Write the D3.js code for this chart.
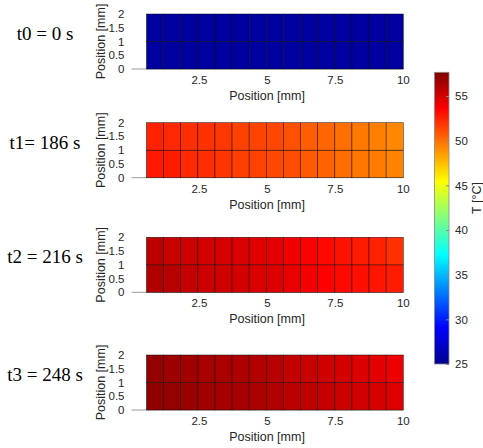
<!DOCTYPE html>
<html>
<head>
<meta charset="utf-8">
<script src="https://cdn.jsdelivr.net/npm/d3@7/dist/d3.min.js"></script>
<style>
  body { margin: 0; background: #fff; }
  text { font-family: "Liberation Sans", Arial, sans-serif; fill: #262626; }
</style>
</head>
<body>
<svg id="chart" width="483" height="448"></svg>
<script>
// panel titles (time stamps)
const titles = ["t0 = 0 s", "t1= 186 s", "t2 = 216 s", "t3 = 248 s"];

// column edges along x [mm] and row edges along y [mm]
const xEdges = [0.55, 1.18, 1.81, 2.44, 3.07, 3.7, 4.33, 4.96, 5.59, 6.22, 6.85, 7.48, 8.11, 8.74, 9.37, 10];
const yEdges = [0, 1, 2];

const xTicks = [2.5, 5, 7.5, 10];
const yTicks = [0, 0.5, 1, 1.5, 2];
const cTicks = [25, 30, 35, 40, 45, 50, 55];

// temperatures [°C], row 0 = bottom (0-1 mm), row 1 = top (1-2 mm)
const temp0 = [
  [25.6, 25.6, 25.6, 25.6, 25.6, 25.6, 25.6, 25.6, 25.6, 25.6, 25.6, 25.6, 25.6, 25.6, 25.6],
  [25.6, 25.6, 25.6, 25.6, 25.6, 25.6, 25.6, 25.6, 25.6, 25.6, 25.6, 25.6, 25.6, 25.6, 25.6]
];
const temp1 = [
  [52.8, 52.7, 52.3, 52.1, 51.9, 51.6, 51.5, 51.3, 51.1, 50.7, 50.4, 50.1, 49.8, 49.6, 49.4],
  [52.5, 52.3, 52.1, 52.0, 51.8, 51.5, 51.4, 51.3, 51.0, 50.6, 50.3, 50.0, 49.7, 49.5, 49.2]
];
const temp2 = [
  [56.1, 55.85, 55.45, 55.2, 55.07, 54.96, 54.75, 54.63, 54.3, 53.92, 53.57, 53.3, 53.1, 52.9, 52.7],
  [55.75, 55.33, 55.2, 55.0, 54.9, 54.75, 54.56, 54.43, 54.05, 53.73, 53.3, 53.0, 52.75, 52.5, 52.0]
];
const temp3 = [
  [57.12, 57.0, 56.8, 56.6, 56.48, 56.35, 56.29, 56.1, 55.75, 55.6, 55.4, 55.2, 55.0, 54.9, 54.62],
  [56.96, 56.74, 56.55, 56.42, 56.29, 56.16, 56.03, 55.9, 55.52, 55.33, 55.14, 54.95, 54.69, 54.5, 54.12]
];
const temps = [temp0, temp1, temp2, temp3];

const cMin = 25, cMax = 57.65;

// jet colormap
const jetStops = [0, 1/8, 3/8, 5/8, 7/8, 1];
const jetColors = ["#000090", "#0000ff", "#00ffff", "#ffff00", "#ff0000", "#800000"];
const jet = d3.scaleLinear().domain(jetStops).range(jetColors).clamp(true);
const color = v => jet((v - cMin) / (cMax - cMin));

const svg = d3.select("#chart");

const panelTops = [14, 122.7, 237.3, 355];
const panelH = 55;

let x = d3.scaleLinear().domain([0, 10]).range([131.5, 403.3]);

panelTops.forEach(function(top, p) {
  let y = d3.scaleLinear().domain([0, 2]).range([top + panelH, top]);
  let g = svg.append("g");

  // x axis line
  g.append("line")
    .attr("x1", x(0)).attr("x2", x(10))
    .attr("y1", y(0)).attr("y2", y(0))
    .attr("stroke", "#9a9a9a").attr("stroke-width", 1);

  // cells
  let cells = [];
  temps[p].forEach(function(row, r) {
    row.forEach(function(v, c) { cells.push({r: r, c: c, v: v}); });
  });
  g.selectAll("rect.cell").data(cells).enter().append("rect")
    .attr("class", "cell")
    .attr("x", d => x(xEdges[d.c]))
    .attr("width", d => x(xEdges[d.c + 1]) - x(xEdges[d.c]))
    .attr("y", d => y(yEdges[d.r + 1]))
    .attr("height", d => y(yEdges[d.r]) - y(yEdges[d.r + 1]))
    .attr("fill", d => color(d.v))
    .attr("stroke", "#000")
    .attr("stroke-opacity", 0.75)
    .attr("stroke-width", 0.6);

  // x tick labels
  g.selectAll("text.xt").data(xTicks).enter().append("text")
    .attr("class", "xt")
    .attr("x", d => x(d)).attr("y", y(0) + 15)
    .attr("text-anchor", "middle")
    .style("font-size", "11.5px")
    .text(d => d);

  // y tick labels
  g.selectAll("text.yt").data(yTicks).enter().append("text")
    .attr("class", "yt")
    .attr("x", 124.5).attr("y", d => y(d) + 4)
    .attr("text-anchor", "end")
    .style("font-size", "11.5px")
    .text(d => d);

  // axis labels
  g.append("text")
    .attr("x", 267).attr("y", y(0) + 31)
    .attr("text-anchor", "middle")
    .style("font-size", "12.5px")
    .text("Position [mm]");
  g.append("text")
    .attr("transform", "translate(105," + (top + panelH / 2) + ") rotate(-90)")
    .attr("text-anchor", "middle")
    .style("font-size", "12.5px")
    .text("Position [mm]");

  // time title
  g.append("text")
    .attr("x", 45).attr("y", top + 26)
    .attr("text-anchor", "middle")
    .style("font-family", "'Liberation Serif', 'Times New Roman', serif")
    .style("font-size", "19px")
    .style("fill", "#000")
    .text(titles[p]);
});

// colorbar
const cbX = 434.5, cbW = 14.5, cbTop = 72.3, cbBottom = 364;
let cy = d3.scaleLinear().domain([cMin, cMax]).range([cbBottom, cbTop]);

let defs = svg.append("defs");
let grad = defs.append("linearGradient")
  .attr("id", "jetgrad")
  .attr("x1", 0).attr("x2", 0).attr("y1", 1).attr("y2", 0);
grad.selectAll("stop").data(jetStops).enter().append("stop")
  .attr("offset", d => d)
  .attr("stop-color", (d, i) => jetColors[i]);

svg.append("rect")
  .attr("x", cbX).attr("y", cbTop)
  .attr("width", cbW).attr("height", cbBottom - cbTop)
  .attr("fill", "url(#jetgrad)")
  .attr("stroke", "#8a8a8a").attr("stroke-width", 0.8);

let cAxis = svg.append("g")
  .attr("transform", "translate(" + (cbX + cbW) + ",0)")
  .call(d3.axisRight(cy).tickValues(cTicks).tickSizeInner(-3).tickSizeOuter(0).tickPadding(6));
cAxis.select(".domain").remove();
cAxis.selectAll(".tick line").attr("stroke", "#8a8a8a");
cAxis.selectAll(".tick text")
  .style("font-size", "11.5px")
  .style("font-family", "'Liberation Sans', Arial, sans-serif")
  .attr("fill", "#262626");

svg.append("text")
  .attr("transform", "translate(481,198) rotate(-90)")
  .attr("text-anchor", "middle")
  .style("font-size", "12.5px")
  .text("T [°C]");
</script>
</body>
</html>
